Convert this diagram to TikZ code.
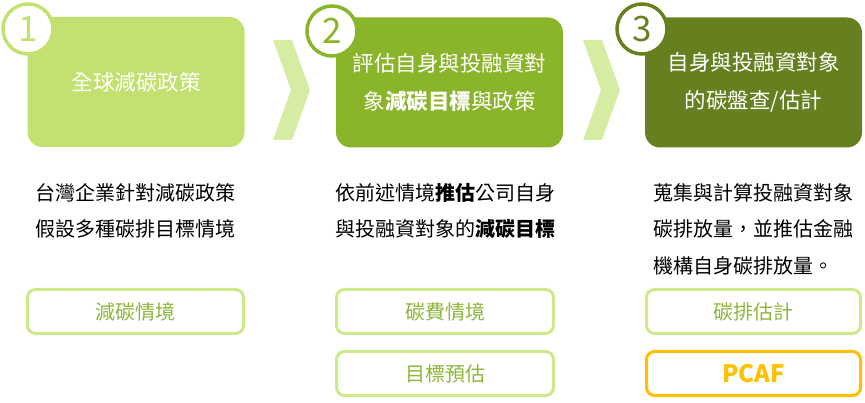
\documentclass[tikz,border=0pt]{standalone}
\usepackage{fontspec}
\setmainfont{Noto Sans CJK TC}
\usetikzlibrary{positioning}
\definecolor{lightgrn}{HTML}{C3E170}
\definecolor{midgrn}{HTML}{8AB42A}
\definecolor{darkgrn}{HTML}{66801F}
\definecolor{chevron}{HTML}{D7ECA3}
\definecolor{tagline}{HTML}{CDE98A}
\definecolor{tagtext}{HTML}{8DB63A}
\definecolor{pcaf}{HTML}{FFC000}
\tikzset{
  stage/.style={rounded corners=15pt,minimum width=217pt,minimum height=130pt,text=white,align=center,font=\fontsize{21.5}{38}\selectfont},
  badge/.style={circle,draw,fill=white,line width=3.5pt,minimum size=50pt,inner sep=0pt,font=\fontsize{35}{35}\selectfont},
  note/.style={anchor=north west,inner sep=0pt,align=left,font=\fontsize{20}{36.5}\selectfont},
  tag/.style={draw=tagline,rounded corners=8pt,line width=3pt,minimum width=216pt,minimum height=44pt,text=tagtext,font=\fontsize{20}{24}\selectfont}
}
\begin{document}
\begin{tikzpicture}[x=1pt,y=-1pt]
        \useasboundingbox (0,0) rectangle (865,403);
        % top boxes
        \node[stage,fill=lightgrn](s1)at(136,82){全球減碳政策};
        \node[stage,fill=midgrn,minimum width=227pt](s2)at(449.5,82.5){評估自身與投融資對\\象\textbf{減碳目標}與政策};
        \node[stage,fill=darkgrn](s3)at(753.5,82.5){自身與投融資對象\\的碳盤查/估計};
        \node[badge,draw=lightgrn,text=lightgrn](b1)at(28,29){1};
        \node[badge,draw=midgrn,text=midgrn](b2)at(332,31){2};
        \node[badge,draw=darkgrn,text=darkgrn](b3)at(642,29){3};
        \foreach \dx in {0,310} \fill[chevron,shift={(\dx,0)}] (273,40) -- (292,40) -- (310,90) -- (292,140) -- (273,140) -- (291,90) -- cycle;
        % descriptions
        \node[note](n1)at(35,183){台灣企業針對減碳政策\\假設多種碳排目標情境};
        \node[note](n2)at(335,183){依前述情境\textbf{推估}公司自身\\與投融資對象的\textbf{減碳目標}};
        \node[note](n3)at(653,183){蒐集與計算投融資對象\\碳排放量，並推估金融\\機構自身碳排放量。};
        % bottom tags
        \node[tag](t1)at(135.5,311.5){減碳情境};
        \node[tag,minimum width=217pt](t2)at(445,311.5){碳費情境};
        \node[tag,minimum width=217pt,below=15pt of t2](t3){目標預估};
        \node[tag,minimum width=214pt](t4)at(753.5,311.5){碳排估計};
        \node[tag,minimum width=214pt,draw=pcaf,text=pcaf,font=\fontsize{24}{24}\selectfont\bfseries,below=15pt of t4](t5){PCAF};
    \end{tikzpicture}
\end{document}
